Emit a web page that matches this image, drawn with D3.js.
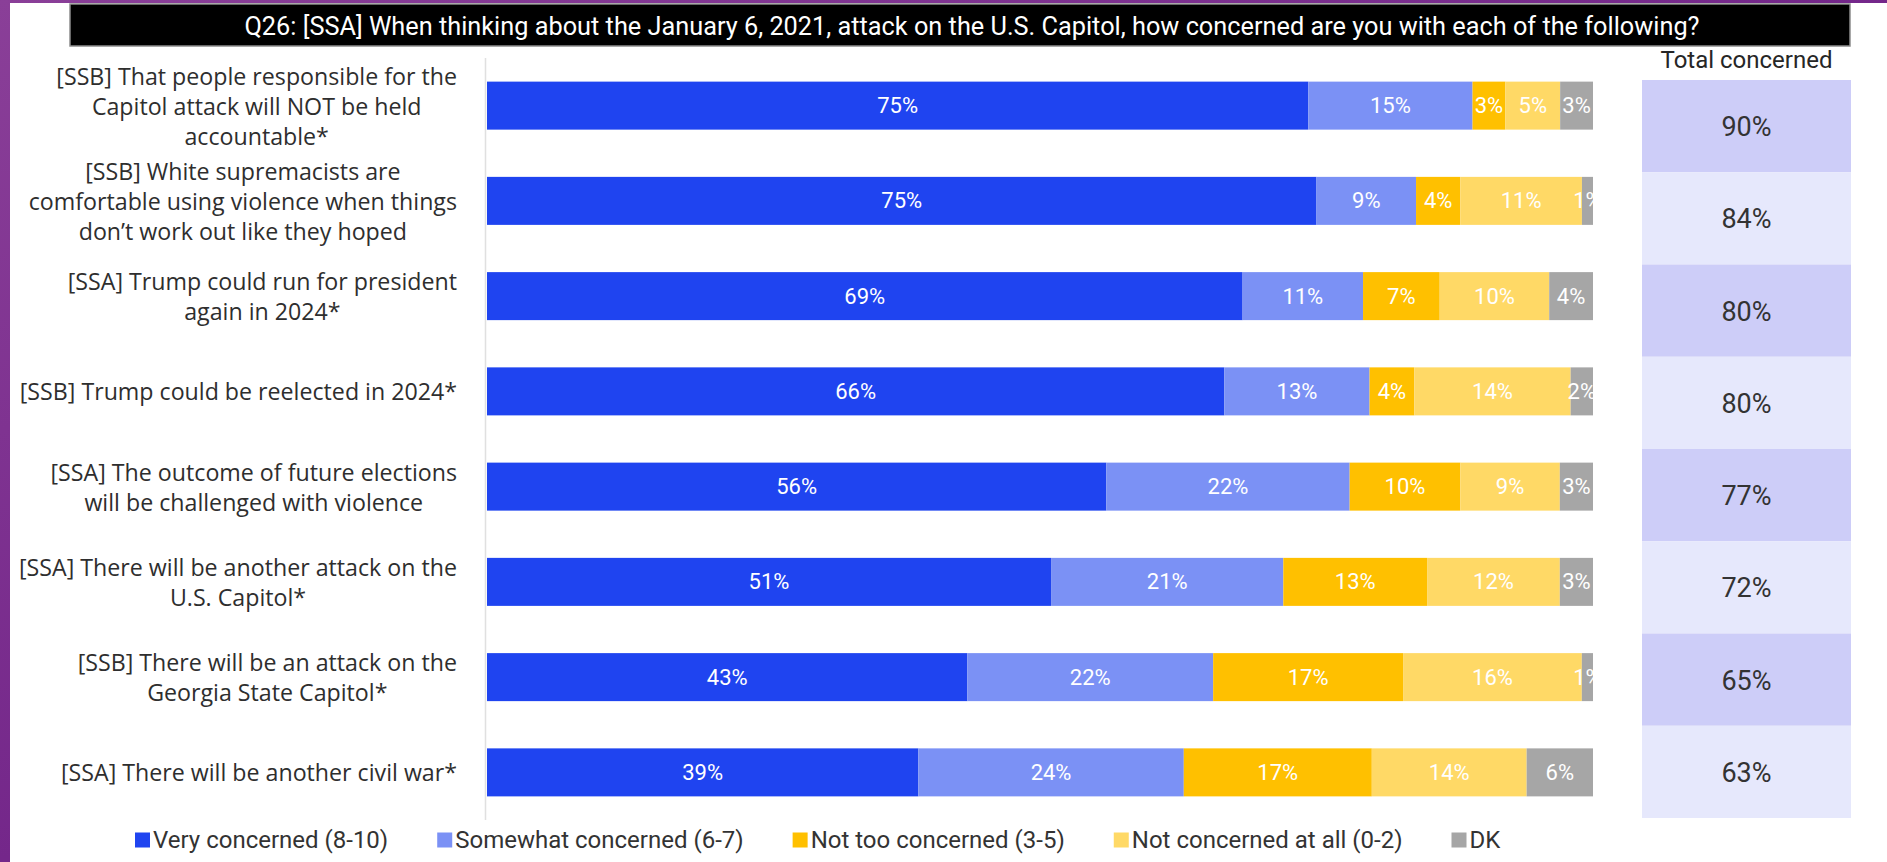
<!DOCTYPE html>
<html>
<head>
<meta charset="utf-8">
<script src="https://cdn.jsdelivr.net/npm/d3@7/dist/d3.min.js"></script>
<style>
  html, body { margin: 0; padding: 0; background: #fff; }
  svg { display: block; }
</style>
</head>
<body>
<svg id="chart" width="1887" height="862"></svg>
<script>
// ---------------- DATA ----------------
const title = "Q26: [SSA] When thinking about the January 6, 2021, attack on the U.S. Capitol, how concerned are you with each of the following?";
const categories = [
  ["[SSB] That people responsible for the", "Capitol attack will NOT be held", "accountable*"],
  ["[SSB] White supremacists are", "comfortable using violence when things", "don\u2019t work out like they hoped"],
  ["[SSA] Trump could run for president", "again in 2024*"],
  ["[SSB] Trump could be reelected in 2024*"],
  ["[SSA] The outcome of future elections", "will be challenged with violence"],
  ["[SSA] There will be another attack on the", "U.S. Capitol*"],
  ["[SSB] There will be an attack on the", "Georgia State Capitol*"],
  ["[SSA] There will be another civil war*"]
];
const seriesNames = ["Very concerned (8-10)", "Somewhat concerned (6-7)", "Not too concerned (3-5)", "Not concerned at all (0-2)", "DK"];
const veryConcerned     = [75, 75, 69, 66, 56, 51, 43, 39];
const somewhatConcerned = [15,  9, 11, 13, 22, 21, 22, 24];
const notTooConcerned   = [ 3,  4,  7,  4, 10, 13, 17, 17];
const notAtAll          = [ 5, 11, 10, 14,  9, 12, 16, 14];
const dontKnow          = [ 3,  1,  4,  2,  3,  3,  1,  6];
const totalConcerned    = [90, 84, 80, 80, 77, 72, 65, 63];
const totalHeader = "Total concerned";
const colors = ["#1f44f0", "#7b91f5", "#ffc000", "#ffd966", "#a6a6a6"];
const cellColors = ["#cdcdf8", "#e6e8fc"];

// ---------------- BUILD ----------------
const seriesArrays = [veryConcerned, somewhatConcerned, notTooConcerned, notAtAll, dontKnow];
const keys = ["s0", "s1", "s2", "s3", "s4"];
const rows = categories.map((c, i) => {
  const o = { idx: i };
  keys.forEach((k, j) => o[k] = seriesArrays[j][i]);
  return o;
});

const svg = d3.select("#chart");
const W = 1887, H = 862;
const uiFont = "Roboto, 'Liberation Sans', sans-serif";

// background
const defs = svg.append("defs");
const grad = defs.append("linearGradient").attr("id", "bg").attr("x1", 0).attr("y1", 0).attr("x2", 1).attr("y2", 1);
grad.append("stop").attr("offset", "0%").attr("stop-color", "#8a3f98");
grad.append("stop").attr("offset", "50%").attr("stop-color", "#74278a");
grad.append("stop").attr("offset", "100%").attr("stop-color", "#82348f");
svg.append("rect").attr("width", W).attr("height", H).attr("fill", "url(#bg)");
svg.append("rect").attr("x", 10).attr("y", 3).attr("width", W - 10).attr("height", H - 3).attr("fill", "#ffffff");

// title bar
svg.append("rect").attr("x", 70).attr("y", 4).attr("width", 1780).attr("height", 42)
  .attr("fill", "#000").attr("stroke", "#8c8c8c").attr("stroke-width", 1.5);
svg.append("text").attr("x", 972).attr("y", 26).attr("text-anchor", "middle").attr("dominant-baseline", "central")
  .attr("fill", "#fff").style("font-family", uiFont).style("font-size", "25.3px")
  .text(title);

// scales
const x = d3.scaleLinear().domain([0, 1]).range([487, 1593]);
const y = d3.scaleBand().domain(d3.range(categories.length)).range([58, 820]).paddingInner(0.496).paddingOuter(0.248);

// axis line
svg.append("line").attr("x1", 485.5).attr("x2", 485.5).attr("y1", 58).attr("y2", 820)
  .attr("stroke", "#e0e0e0").attr("stroke-width", 1.5);

const stack = d3.stack().keys(keys).offset(d3.stackOffsetExpand);
const stacked = stack(rows);

defs.append("clipPath").attr("id", "plotclip").append("rect")
  .attr("x", x(0)).attr("y", 0).attr("width", x(1) - x(0) + 1).attr("height", H);

const gBars = svg.append("g");
stacked.forEach((layer, j) => {
  gBars.selectAll(null).data(layer).enter().append("rect")
    .attr("x", d => x(d[0]))
    .attr("y", (d, i) => y(i))
    .attr("width", d => x(d[1]) - x(d[0]))
    .attr("height", y.bandwidth())
    .attr("fill", colors[j]);
});
const gLabels = svg.append("g").attr("clip-path", "url(#plotclip)");
stacked.forEach((layer, j) => {
  gLabels.selectAll(null).data(layer).enter().append("text")
    .attr("x", d => (x(d[0]) + x(d[1])) / 2)
    .attr("y", (d, i) => y(i) + y.bandwidth() / 2)
    .attr("text-anchor", "middle").attr("dominant-baseline", "central")
    .attr("fill", "#fff")
    .style("font-family", uiFont).style("font-size", "22px")
    .text((d, i) => seriesArrays[j][i] + "%");
});

// category labels: block right-aligned, lines centered
const labelFont = "'Open Sans', Lato, sans-serif";
const labelSize = 23.2, lineH = 30, labelRight = 457;
categories.forEach((lines, i) => {
  const cy = y(i) + y.bandwidth() / 2;
  const g = svg.append("g");
  const texts = lines.map((ln, k) => g.append("text")
    .attr("y", cy + (k - (lines.length - 1) / 2) * lineH)
    .attr("dominant-baseline", "central").attr("text-anchor", "middle")
    .attr("fill", "#2e2e2e")
    .style("font-family", labelFont).style("font-size", labelSize + "px")
    .text(ln));
  const maxW = d3.max(texts, t => t.node().getComputedTextLength());
  texts.forEach(t => t.attr("x", labelRight - maxW / 2));
});

// total concerned column
const yt = d3.scaleBand().domain(d3.range(categories.length)).range([80, 818]);
const colX = 1642, colW = 209;
svg.append("text").attr("x", colX + colW / 2).attr("y", 60).attr("text-anchor", "middle").attr("dominant-baseline", "central")
  .attr("fill", "#262626").style("font-family", uiFont).style("font-size", "24px")
  .text(totalHeader);
svg.selectAll(".cell").data(totalConcerned).enter().append("rect")
  .attr("x", colX).attr("y", (d, i) => yt(i)).attr("width", colW).attr("height", yt.bandwidth())
  .attr("fill", (d, i) => cellColors[i % 2]);
svg.selectAll(".tot").data(totalConcerned).enter().append("text")
  .attr("x", colX + colW / 2).attr("y", (d, i) => yt(i) + yt.bandwidth() / 2 + 1)
  .attr("text-anchor", "middle").attr("dominant-baseline", "central")
  .attr("fill", "#333").style("font-family", uiFont).style("font-size", "27px")
  .text(d => d + "%");

// legend
let lx = 135;
const ly = 840;
seriesNames.forEach((name, j) => {
  svg.append("rect").attr("x", lx).attr("y", ly - 7.5).attr("width", 15).attr("height", 15).attr("fill", colors[j]);
  const t = svg.append("text").attr("x", lx + 18).attr("y", ly).attr("dominant-baseline", "central")
    .attr("fill", "#333").style("font-family", uiFont).style("font-size", "24px")
    .text(name);
  lx += 18 + t.node().getComputedTextLength() + 49;
});
</script>
</body>
</html>
